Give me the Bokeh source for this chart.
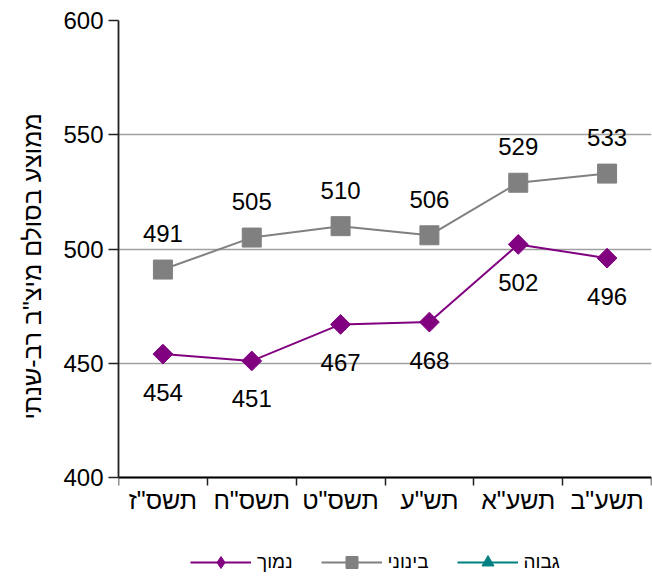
import math
from bokeh.plotting import figure
from bokeh.models import (ColumnDataSource, FixedTicker, Legend, LegendItem, Range1d, Title)
from bokeh.core.properties import value
from bokeh.embed import file_html
from bokeh.resources import INLINE

NAN = float("nan")

# ---- data ----
years = ['תשס"ז', 'תשס"ח', 'תשס"ט', 'תש"ע', 'תשע"א', 'תשע"ב']
low_scores = [454, 451, 467, 468, 502, 496]      # נמוך
mid_scores = [491, 505, 510, 506, 529, 533]      # בינוני
high_scores = [NAN, NAN, NAN, NAN, NAN, NAN]      # גבוה (no values shown)
y_ticks = [400, 450, 500, 550, 600]
series_names = ["נמוך", "בינוני", "גבוה"]
y_title = 'ממוצע בסולם מיצ"ב רב-שנתי'

FONT = "Liberation Sans, Arial, DejaVu Sans"
GRAY = "#808080"
PURPLE = "#800080"
TEAL = "#008080"

# layout: plot area 115..651 x 20..477 px; space below the x axis for labels and legend
W, H = 652, 577
TOP, AXIS_Y, LEFT = 20, 477, 115
ymin, ymax = y_ticks[0], y_ticks[-1]
y_start = ymin - (ymax - ymin) * (H - AXIS_Y) / (AXIS_Y - TOP)

xpos = [i + 0.5 for i in range(len(years))]
low_src = ColumnDataSource(dict(x=xpos, y=low_scores, t=[str(v) for v in low_scores]))
mid_src = ColumnDataSource(dict(x=xpos, y=mid_scores, t=[str(v) for v in mid_scores]))
high_src = ColumnDataSource(dict(x=xpos, y=high_scores))

p = figure(width=W, height=H, output_backend="svg", toolbar_location=None,
           x_range=Range1d(0, len(years)), y_range=Range1d(y_start, ymax),
           min_border_left=LEFT, min_border_right=1, min_border_top=TOP, min_border_bottom=0)
p.outline_line_color = None
p.background_fill_color = "white"
p.border_fill_color = "white"

# grid
p.xgrid.grid_line_color = None
p.ygrid.ticker = FixedTicker(ticks=y_ticks)
p.ygrid.grid_line_color = "#a0a0a0"
p.ygrid.grid_line_width = 1.6

# y axis
p.yaxis.ticker = FixedTicker(ticks=y_ticks)
p.yaxis.bounds = (ymin, ymax)
p.yaxis.axis_line_color = "#222222"
p.yaxis.axis_line_width = 1.8
p.yaxis.major_tick_line_color = "#222222"
p.yaxis.major_tick_line_width = 1.5
p.yaxis.major_tick_out = 10
p.yaxis.major_tick_in = 0
p.yaxis.minor_tick_line_color = None
p.yaxis.major_label_text_font = FONT
p.yaxis.major_label_text_font_size = "24px"
p.yaxis.major_label_text_color = "black"
p.yaxis.major_label_standoff = 5

# y-axis title (placed in the left panel so it can sit level with the 400-600 scale)
ytitle = Title(text=y_title, align="left", offset=158, standoff=30,
               text_font=FONT, text_font_size="25px", text_font_style="normal",
               text_color="black")
p.add_layout(ytitle, "left")

# x axis sits at y = 400; ticks at category boundaries, labels at centers
p.xaxis.fixed_location = ymin
p.xaxis.ticker = FixedTicker(ticks=xpos, minor_ticks=list(range(len(years) + 1)))
p.xaxis.major_label_overrides = {x: y for x, y in zip(xpos, years)}
p.xaxis.axis_line_color = "black"
p.xaxis.axis_line_width = 1.8
p.xaxis.major_tick_line_color = None
p.xaxis.major_tick_out = 8
p.xaxis.major_tick_in = 0
p.xaxis.minor_tick_line_color = "#222222"
p.xaxis.minor_tick_line_width = 1.5
p.xaxis.minor_tick_out = 8
p.xaxis.minor_tick_in = 0
p.xaxis.major_label_text_font = FONT
p.xaxis.major_label_text_font_size = "25px"
p.xaxis.major_label_text_color = "black"
p.xaxis.major_label_standoff = 0

# series
mid_line = p.line("x", "y", source=mid_src, line_color=GRAY, line_width=2)
mid_pts = p.scatter("x", "y", source=mid_src, marker="square", size=19,
                    fill_color=GRAY, line_color=GRAY)
low_line = p.line("x", "y", source=low_src, line_color=PURPLE, line_width=2)
low_pts = p.scatter("x", "y", source=low_src, marker="square", size=14, angle=math.pi / 4,
                    fill_color=PURPLE, line_color=PURPLE)
# zero-size diamond only used for the legend key shape
low_key = p.scatter("x", "y", source=low_src, marker="diamond", size=0,
                    fill_color=PURPLE, line_color=PURPLE)
high_line = p.line("x", "y", source=high_src, line_color=TEAL, line_width=2)
high_pts = p.scatter("x", "y", source=high_src, marker="triangle", size=14,
                     fill_color=TEAL, line_color=TEAL)

# data labels
p.text("x", "y", text="t", source=mid_src, y_offset=-36, text_align="center",
       text_baseline="middle", text_font=value(FONT), text_font_size="24px", text_color="black")
p.text("x", "y", text="t", source=low_src, y_offset=38, text_align="center",
       text_baseline="middle", text_font=value(FONT), text_font_size="24px", text_color="black")

legend = Legend(items=[
    LegendItem(label=series_names[0], renderers=[low_line, low_key]),
    LegendItem(label=series_names[1], renderers=[mid_line, mid_pts]),
    LegendItem(label=series_names[2], renderers=[high_line, high_pts]),
], orientation="horizontal", location=(72, 0), padding=0, margin=0, spacing=28,
    glyph_width=61, glyph_height=30, label_standoff=6,
    label_text_font=FONT, label_text_font_size="19px", label_text_color="black",
    border_line_color=None, background_fill_alpha=0)
p.add_layout(legend, "center")

open("out.html", "w").write(file_html(p, INLINE))
